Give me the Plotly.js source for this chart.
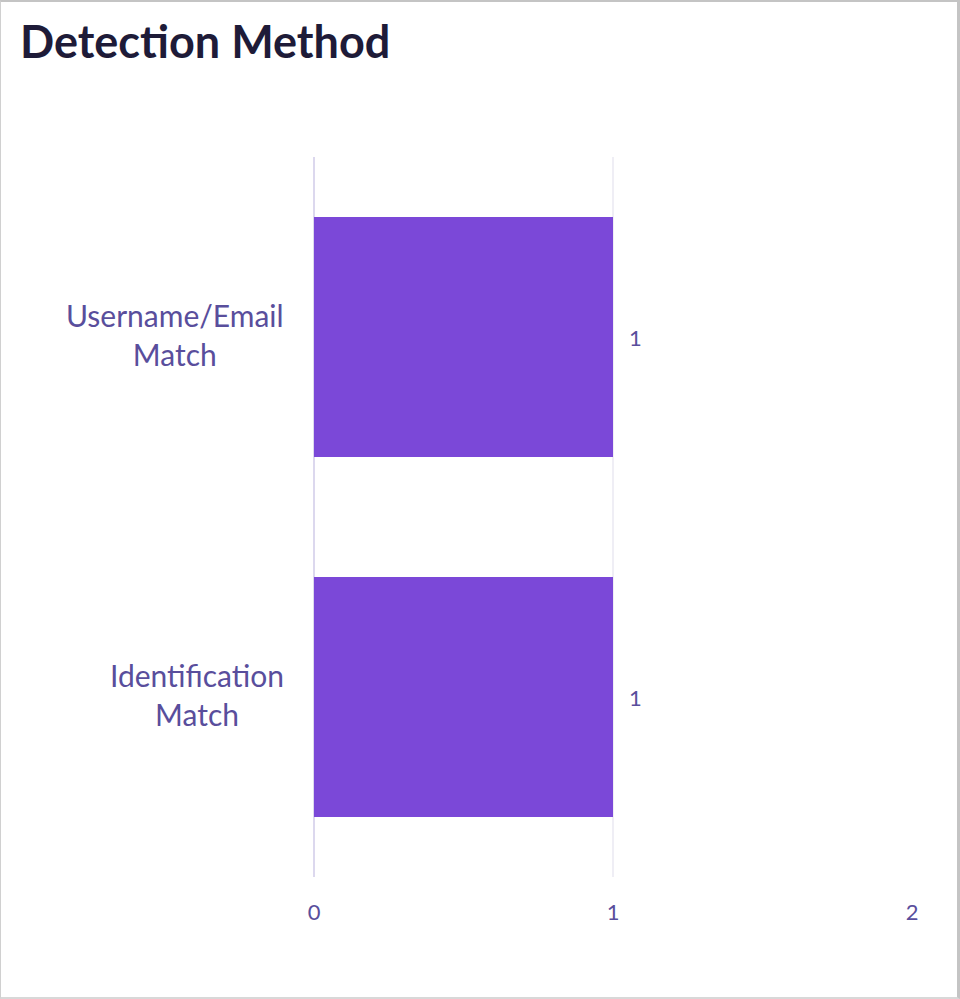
<!DOCTYPE html>
<html>
<head>
<meta charset="utf-8">
<script src="https://cdn.plot.ly/plotly-3.0.1.min.js"></script>
<style>
html,body{margin:0;padding:0;background:#fff;}
#wrap{position:relative;width:960px;height:999px;}
#chart{position:absolute;left:0;top:0;width:960px;height:999px;}
#frame{position:absolute;left:0;top:0;width:960px;height:999px;box-sizing:border-box;border-top:2px solid #c4c4c4;border-right:3px solid #c4c4c4;border-bottom:2px solid #d8d8d8;border-left:1px solid #d0d0d0;pointer-events:none;}
</style>
</head>
<body>
<div id="wrap"><div id="chart"></div><div id="frame"></div></div>
<script>
const categories = ["Identification<br>Match", "Username/Email<br>Match"];
const counts = [1, 1];
const xTicks = [0, 1, 2];

const labelColor = "#594e9c";
const fontFam = "Lato, 'Open Sans', sans-serif";

const catLabels = categories.map((c, i) => ({
  text: c, x: 0, xref: "paper", y: i, yref: "y",
  xanchor: "right", yanchor: "middle", align: "center",
  xshift: -28, yshift: 3, showarrow: false,
  font: {family: fontFam, size: 30, color: labelColor}
}));
const valLabels = counts.map((v, i) => ({
  text: String(v), x: v, xref: "x", y: i, yref: "y",
  xanchor: "center", yanchor: "middle",
  xshift: 22, showarrow: false,
  font: {family: fontFam, size: 22, color: labelColor}
}));

Plotly.newPlot("chart", [{
  type: "bar",
  orientation: "h",
  y: categories,
  x: counts,
  marker: {color: "#7b48d8"},
  hoverinfo: "none"
}], {
  width: 960, height: 999,
  margin: {l: 314, r: 48, t: 157, b: 122},
  paper_bgcolor: "#fff", plot_bgcolor: "#fff",
  showlegend: false,
  bargap: 1/3,
  annotations: catLabels.concat(valLabels),
  title: {
    text: "<b>Detection Method</b>",
    font: {family: fontFam, size: 45, color: "#1e1b38"},
    x: 20/960, xanchor: "left", xref: "container",
    y: 1 - 42/999, yanchor: "middle", yref: "container"
  },
  xaxis: {
    range: [0, 2],
    tickvals: xTicks,
    ticktext: xTicks.map(String),
    showgrid: true, gridcolor: "#efeef5", gridwidth: 2,
    zeroline: true, zerolinecolor: "#dcd8ee", zerolinewidth: 2,
    showline: false,
    ticks: "",
    tickfont: {family: fontFam, size: 22, color: labelColor},
    ticklabelstandoff: 20
  },
  yaxis: {
    range: [-0.5, 1.5],
    showgrid: false, zeroline: false, showline: false,
    ticks: "",
    showticklabels: false
  }
}, {displayModeBar: false, staticPlot: true});
</script>
</body>
</html>
